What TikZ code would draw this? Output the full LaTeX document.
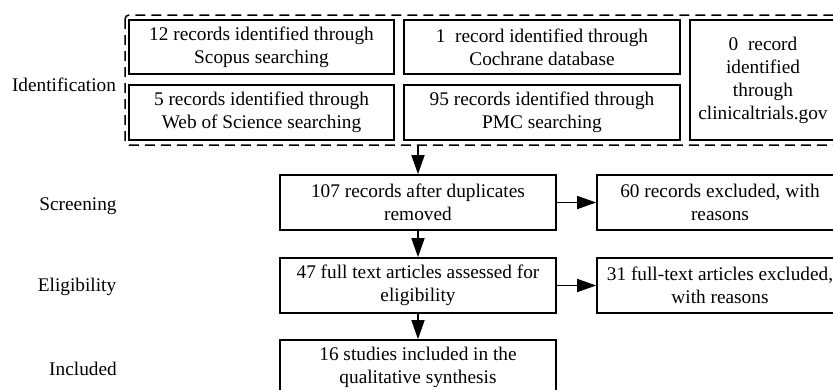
\documentclass[tikz,border=0pt]{standalone}
\usepackage{fontspec}
\setmainfont{Liberation Serif}
\usetikzlibrary{arrows.meta}
\begin{document}
\begin{tikzpicture}[x=1pt,y=-1pt,
 box/.style={draw, line width=1.7pt, align=center, inner sep=0pt, font=\fontsize{19.3}{23}\selectfont},
 lab/.style={font=\fontsize{19.3}{23}\selectfont, inner sep=0pt, anchor=base},
 arr/.style={line width=1.6pt, -{Triangle[length=19pt,width=13pt]}}]
\useasboundingbox (0,0) rectangle (833,389);
\clip (0,0) rectangle (833,389);
\draw[dash pattern=on 10pt off 6pt, line width=1.5pt, rounded corners=4pt] (125,15) rectangle (850,145);
\coordinate (dashbot) at (418,145);
\node[box, minimum width=265pt, minimum height=54pt] (scopus) at (261.5,47) {12 records identified through\\Scopus searching};
\node[box, minimum width=265pt, minimum height=55pt] (wos) at (261.5,112.5) {5 records identified through\\Web of Science searching};
\node[box, minimum width=276pt, minimum height=54pt] (coch) at (542,47) {1\ \ record identified through\\Cochrane database};
\node[box, minimum width=276pt, minimum height=55pt] (pmc) at (542,112.5) {95 records identified through\\PMC searching};
\node[box, minimum width=146pt, minimum height=120pt] (ct) at (763,80) {0\ \ record\\identified\\through\\clinicaltrials.gov};
\node[lab] (ident) at (64,91.5) {Identification};
\node[box, minimum width=276pt, minimum height=55pt] (dup) at (418,202.5) {107 records after duplicates\\removed};
\node[box, minimum width=276pt, minimum height=55pt] (full) at (418,285.5) {47 full text articles assessed for\\eligibility};
\node[box, minimum width=276pt, minimum height=55pt] (incl) at (418,367.5) {16 studies included in the\\qualitative synthesis};
\node[box, minimum width=246pt, minimum height=55pt] (exc1) at (720,202.5) {60 records excluded, with\\reasons};
\node[box, minimum width=246pt, minimum height=55pt] (exc2) at (720,285.5) {31 full-text articles excluded,\\with reasons};
\node[lab] (scr) at (78,210.5) {Screening};
\node[lab] (elig) at (77,291) {Eligibility};
\node[lab] (inc) at (83,375) {Included};
\draw[arr] (dashbot) -- (dup);
\draw[arr] (dup) -- (full);
\draw[arr] (full) -- (incl);
\draw[arr] (dup) -- (exc1);
\draw[arr] (full) -- (exc2);
\end{tikzpicture}
\end{document}
